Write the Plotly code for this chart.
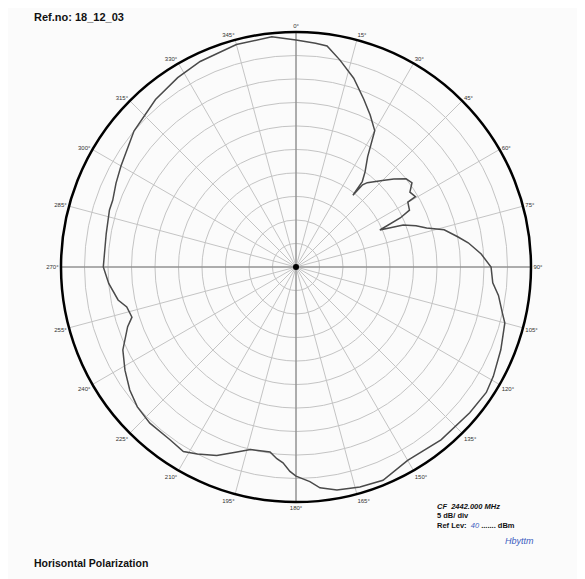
import plotly.graph_objects as go

# ---- data (relative level in dB vs. azimuth in degrees) ----
angles = [0, 5, 8, 12, 17, 22, 26, 30, 33, 36, 37.8, 38.4, 39, 40.2, 45, 48, 51.3, 54, 56.7, 59.5,
          59.9, 63.4, 64.8, 66.2, 68.6, 71, 73.4, 75.9, 79.4, 82, 86, 90, 94.6, 98, 102.6, 105,
          112, 119, 123.4, 130, 140, 150, 157.8, 163.8, 169.6, 173.8, 176.3, 180, 181.7, 183.8,
          185.7, 188, 194, 197.7, 202.8, 207.8, 211.4, 216.1, 223.1, 228.6, 233.5, 238.9, 244.4,
          250.5, 253, 256.7, 259.5, 265, 270, 280, 287, 290, 295, 300, 310, 320, 328, 335, 345,
          354, 360]
level_db = [-1.7, -2.2, -2.5, -5.0, -8.0, -11.5, -14.0, -16.5, -22.0, -25.0, -27.0, -30.5, -27.5,
            -26.5, -24.0, -22.0, -20.0, -19.5, -21.0, -20.5, -22.5, -23.0, -25.5, -30.5, -25.5,
            -23.0, -21.0, -17.5, -15.0, -13.0, -10.5, -8.5, -8.0, -6.5, -5.0, -4.0, -3.0, -2.0,
            -1.5, -1.75, -2.0, -2.5, -1.0, -1.25, -1.75, -2.75, -4.25, -5.5, -6.5, -8.25, -9.0,
            -10.25, -10.0, -8.7, -6.5, -5.0, -4.0, -4.5, -4.5, -5.0, -6.0, -7.5, -9.15, -12.0,
            -13.5, -13.0, -11.5, -10.0, -9.0, -9.0, -8.5, -8.5, -7.75, -7.0, -5.0, -3.5, -2.5,
            -1.75, -1.0, -0.75, -1.7]

# crosshair (0-180 and 90-270 axes)
cross_theta = [0, 0, 180, None, 90, 90, 270]
cross_r = [0, -50, 0, None, 0, -50, 0]

# page body has an 8 px margin: work in page pixels and convert
OFF = 8
W, H = 585 - OFF, 579 - OFF


def px(x):
    return (x - OFF) / W


def py(y):
    return 1 - (y - OFF) / H


fig = go.Figure()
fig.add_trace(go.Scatterpolar(theta=cross_theta, r=cross_r, mode="lines",
                              line=dict(color="#7a7a7a", width=1), hoverinfo="skip",
                              showlegend=False, connectgaps=False))
fig.add_trace(go.Scatterpolar(theta=[0], r=[-50], mode="markers",
                              marker=dict(color="black", size=6), showlegend=False))
fig.add_trace(go.Scatterpolar(theta=angles, r=level_db, mode="lines",
                              line=dict(color="#4a4a4a", width=1.5), showlegend=False))

cx, cy, R = 296, 267, 235
fig.update_layout(
    width=W, height=H,
    margin=dict(l=0, r=0, t=0, b=0),
    paper_bgcolor="#fbfbfb",
    font=dict(family="Liberation Sans, Arial", color="#222"),
    polar=dict(
        domain=dict(x=[px(cx - R), px(cx + R)], y=[py(cy + R), py(cy - R)]),
        bgcolor="#fbfbfb",
        angularaxis=dict(rotation=90, direction="clockwise", dtick=15, ticksuffix="°",
                         showline=True, linecolor="black", linewidth=2.5,
                         gridcolor="#c4c4c4", gridwidth=1, ticks="",
                         tickfont=dict(size=6, color="#333")),
        radialaxis=dict(range=[-50, 0], dtick=5, showticklabels=False, ticks="",
                        showline=False, gridcolor="#c4c4c4", gridwidth=1),
    ),
)

ann = [
    dict(x=32, y=17, text="<b>Ref.no: 18_12_03</b>", size=11, color="#111"),
    dict(x=32, y=563, text="<b>Horisontal Polarization</b>", size=10.5, color="#111"),
    dict(x=435, y=506, text="<b><i>CF  2442.000 MHz</i></b>", size=7.5, color="#111"),
    dict(x=435, y=515, text="<b>5 dB/ div</b>", size=7.5, color="#111"),
    dict(x=435, y=525, text="<b>Ref Lev: </b><span style='color:#3b5bbf'><i> 40 </i></span><b>....... dBm</b>", size=7.5, color="#111"),
    dict(x=503, y=541, text="<i>Hbyttm</i>", size=9, color="#3b5bbf"),
]
for a in ann:
    fig.add_annotation(x=px(a["x"]), y=py(a["y"]), xref="paper", yref="paper",
                       text=a["text"], showarrow=False, xanchor="left", yanchor="middle",
                       font=dict(size=a["size"], color=a["color"]))

fig.write_html("out.html")
